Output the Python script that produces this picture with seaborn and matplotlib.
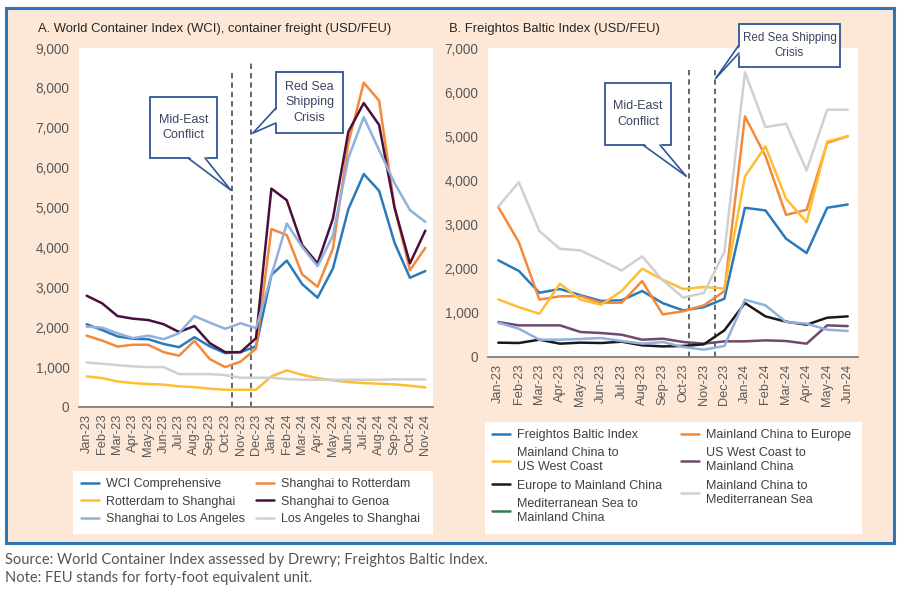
import numpy as np
import pandas as pd
import matplotlib
matplotlib.use('Agg')
import matplotlib.pyplot as plt
import seaborn as sns
from matplotlib.patches import Rectangle, Polygon
from matplotlib.lines import Line2D

# ---------------- data ----------------
months_a = ['Jan-23', 'Feb-23', 'Mar-23', 'Apr-23', 'May-23', 'Jun-23', 'Jul-23', 'Aug-23',
            'Sep-23', 'Oct-23', 'Nov-23', 'Dec-23', 'Jan-24', 'Feb-24', 'Mar-24', 'Apr-24',
            'May-24', 'Jun-24', 'Jul-24', 'Aug-24', 'Sep-24', 'Oct-24', 'Nov-24']
wci_comp = [2075, 1930, 1770, 1710, 1700, 1580, 1500, 1750, 1520, 1350, 1375, 1520,
            3310, 3670, 3080, 2740, 3475, 4960, 5840, 5420, 4118, 3240, 3408]
sh_rott = [1790, 1665, 1515, 1560, 1560, 1375, 1285, 1660, 1200, 1000, 1140, 1460,
           4460, 4310, 3325, 3015, 3975, 6620, 8130, 7680, 5010, 3430, 3990]
rott_sh = [767, 725, 640, 600, 575, 560, 517, 500, 458, 433, 433, 433,
           767, 917, 808, 725, 667, 625, 600, 583, 567, 533, 492]
sh_genoa = [2790, 2600, 2280, 2215, 2180, 2075, 1880, 2030, 1600, 1375, 1375, 1725,
            5475, 5183, 4060, 3600, 4725, 6900, 7620, 7070, 5000, 3600, 4420]
sh_la = [2015, 1990, 1850, 1725, 1790, 1700, 1850, 2280, 2115, 1960, 2100, 1975,
         3300, 4600, 4015, 3530, 4300, 6240, 7267, 6440, 5615, 4937, 4640]
la_sh = [1117, 1083, 1050, 1017, 1000, 1000, 825, 825, 825, 800, 733, 733,
         733, 700, 683, 683, 683, 683, 683, 683, 692, 692, 692]

months_b = ['Jan-23', 'Feb-23', 'Mar-23', 'Apr-23', 'May-23', 'Jun-23', 'Jul-23', 'Aug-23',
            'Sep-23', 'Oct-23', 'Nov-23', 'Dec-23', 'Jan-24', 'Feb-24', 'Mar-24', 'Apr-24',
            'May-24', 'Jun-24']
fbx = [2190, 1950, 1455, 1540, 1400, 1270, 1285, 1495, 1220, 1055, 1130, 1320,
       3380, 3320, 2680, 2355, 3380, 3455]
cn_eu = [3400, 2600, 1300, 1375, 1380, 1230, 1230, 1720, 965, 1035, 1170, 1490,
         5450, 4550, 3220, 3335, 4850, 5000]
cn_uswc = [1305, 1130, 980, 1660, 1300, 1185, 1495, 2000, 1750, 1540, 1585, 1550,
           4090, 4770, 3585, 3055, 4880, 5000]
eu_cn = [325, 317, 392, 302, 325, 317, 347, 264, 240, 250, 287, 604,
         1223, 920, 800, 732, 890, 920]
uswc_cn = [792, 717, 717, 717, 566, 543, 505, 392, 415, 340, 302, 355,
           355, 377, 362, 302, 717, 700]
cn_med = [3410, 3960, 2850, 2450, 2415, 2190, 1960, 2280, 1735, 1345, 1450, 2380,
          6450, 5210, 5283, 4226, 5600, 5600]
med_cn = [777, 641, 392, 392, 408, 430, 362, 302, 340, 226, 166, 249,
          1298, 1170, 792, 755, 619, 589]

yticks_a = [0, 1000, 2000, 3000, 4000, 5000, 6000, 7000, 8000, 9000]
yticks_b = [0, 1000, 2000, 3000, 4000, 5000, 6000, 7000]

# ---------------- style ----------------
sns.set_theme(style='white')
plt.rcParams['font.family'] = ['Liberation Sans Narrow', 'Liberation Sans', 'DejaVu Sans']

BLUE = '#2a7ab9'
ORANGE = '#f5893a'
YELLOW = '#fdbe34'
DPURPLE = '#4a0f3f'
LBLUE = '#8fb1db'
LGRAY = '#d0d0d0'
MPURPLE = '#6f4a6c'
BLACK = '#1a1a1a'
GREEN = '#2e7d4f'
TXT = '#595959'
EDGE = '#2f5597'
PEACH = '#fde8d7'

W, H = 903, 596
fig = plt.figure(figsize=(W / 100, H / 100), dpi=100)
fig.patch.set_facecolor('white')


def fx(x):
    return x / W


def fy(y):
    return 1 - y / H


# outer frame
fig.patches.append(Rectangle((fx(6), fy(543)), (894 - 6) / W, (543 - 8) / H,
                             transform=fig.transFigure, facecolor=PEACH,
                             edgecolor='#2e75b6', lw=2.2, zorder=-2))
# legend backgrounds
fig.patches.append(Rectangle((fx(73), fy(534)), (433 - 73) / W, (534 - 471) / H,
                             transform=fig.transFigure, facecolor='white',
                             edgecolor='none', zorder=-1))
fig.patches.append(Rectangle((fx(485), fy(534)), (862 - 485) / W, (534 - 422) / H,
                             transform=fig.transFigure, facecolor='white',
                             edgecolor='none', zorder=-1))

axA = fig.add_axes([fx(79), fy(407), (433 - 79) / W, (407 - 48) / H])
axB = fig.add_axes([fx(488), fy(357), (858 - 488) / W, (357 - 48) / H])

series_a = [('WCI Comprehensive', wci_comp, BLUE),
            ('Shanghai to Rotterdam', sh_rott, ORANGE),
            ('Rotterdam to Shanghai', rott_sh, YELLOW),
            ('Shanghai to Genoa', sh_genoa, DPURPLE),
            ('Shanghai to Los Angeles', sh_la, LBLUE),
            ('Los Angeles to Shanghai', la_sh, LGRAY)]
xa = np.arange(len(months_a))
handles_a = {}
for name, vals, col in series_a:
    sns.lineplot(x=xa, y=vals, ax=axA, color=col, lw=1.8, legend=False)
    handles_a[name] = Line2D([], [], color=col, lw=1.8)

series_b = [('Freightos Baltic Index', fbx, BLUE, BLUE),
            ('Mainland China to Europe', cn_eu, ORANGE, ORANGE),
            ('Mainland China to\nUS West Coast', cn_uswc, YELLOW, YELLOW),
            ('US West Coast to\nMainland China', uswc_cn, MPURPLE, MPURPLE),
            ('Europe to Mainland China', eu_cn, BLACK, BLACK),
            ('Mainland China to\nMediterranean Sea', cn_med, LGRAY, LGRAY),
            ('Mediterranean Sea to\nMainland China', med_cn, LBLUE, GREEN)]
xb = np.arange(len(months_b))
handles_b = {}
for name, vals, col, lcol in series_b:
    sns.lineplot(x=xb, y=vals, ax=axB, color=col, lw=1.8, legend=False)
    handles_b[name] = Line2D([], [], color=lcol, lw=1.8)

for ax, months, yt, top in [(axA, months_a, yticks_a, 9000), (axB, months_b, yticks_b, 7000)]:
    ax.set_facecolor('white')
    ax.set_xlim(-0.5, len(months) - 0.5)
    ax.set_ylim(0, top)
    ax.set_xticks(np.arange(len(months)))
    ax.set_xticklabels(months, rotation=90)
    ax.set_yticks(yt)
    ax.set_yticklabels([f'{v:,}' for v in yt])
    ax.tick_params(axis='both', length=0, colors=TXT)
    ax.tick_params(axis='y', pad=7, labelsize=9.8)
    ax.tick_params(axis='x', pad=5, labelsize=9.2)
    for s in ['top', 'right', 'left']:
        ax.spines[s].set_visible(False)
    ax.spines['bottom'].set_color('#7f7f7f')
    ax.spines['bottom'].set_linewidth(1.3)
    ax.set_xlabel('')
    ax.set_ylabel('')
    ax.grid(False)

axA.vlines([9.45, 10.7], 0, [8470, 8670], colors='#5a5a5a',
           linestyles=(0, (3, 2.2)), lw=1.3, zorder=1)
axB.vlines([9.3, 10.55], 0, [6500, 6500], colors='#5a5a5a',
           linestyles=(0, (3, 2.2)), lw=1.3, zorder=1)

# titles
fig.text(fx(38), fy(29), 'A. World Container Index (WCI), container freight (USD/FEU)',
         ha='left', va='center', fontsize=9.4, color='#262626')
fig.text(fx(449), fy(29), 'B. Freightos Baltic Index (USD/FEU)',
         ha='left', va='center', fontsize=9.4, color='#262626')


def callout(box, text, base, tip, inward, size=9):
    x0, y0, x1, y1 = box
    fig.patches.append(Rectangle((fx(x0), fy(y1)), (x1 - x0) / W, (y1 - y0) / H,
                                 transform=fig.transFigure, fc='white', ec=EDGE,
                                 lw=1.3, zorder=5))
    (bx1, by1), (bx2, by2) = base
    dx, dy = inward
    poly = Polygon([(fx(bx1 + dx), fy(by1 + dy)), (fx(tip[0]), fy(tip[1])),
                    (fx(bx2 + dx), fy(by2 + dy))], closed=True,
                   transform=fig.transFigure, fc='white', ec='none', zorder=6)
    fig.patches.append(poly)
    for bx, by in base:
        fig.lines.append(Line2D([fx(bx), fx(tip[0])], [fy(by), fy(tip[1])],
                                transform=fig.transFigure, color=EDGE, lw=1.2, zorder=7))
    fig.text(fx((x0 + x1) / 2), fy((y0 + y1) / 2), text, ha='center', va='center',
             fontsize=size, color='#3d4660', linespacing=1.4, zorder=8)


callout((150, 97, 217, 158), 'Mid-East\nConflict', [(188, 158), (205, 158)], (230.7, 190), (0, -2))
callout((276, 72, 343, 133), 'Red Sea\nShipping\nCrisis', [(276, 108), (276, 123)], (253, 133), (2, 0))
callout((605, 83, 671, 145), 'Mid-East\nConflict', [(643, 145), (660, 145)], (686, 176), (0, -2))
callout((739, 24, 840, 67), 'Red Sea Shipping\nCrisis', [(739, 45), (739, 53)], (716, 78), (2, 0),
        size=8.4)

# legends
orderA = ['WCI Comprehensive', 'Rotterdam to Shanghai', 'Shanghai to Los Angeles',
          'Shanghai to Rotterdam', 'Shanghai to Genoa', 'Los Angeles to Shanghai']
legA = fig.legend([handles_a[k] for k in orderA], orderA, ncol=2, frameon=False,
                  loc='upper left', bbox_to_anchor=(fx(81), fy(478)),
                  fontsize=9, handlelength=1.45, handletextpad=0.55,
                  columnspacing=0.9, labelspacing=0.45, borderaxespad=0, borderpad=0)
orderB = ['Freightos Baltic Index', 'Mainland China to\nUS West Coast',
          'Europe to Mainland China', 'Mediterranean Sea to\nMainland China',
          'Mainland China to Europe', 'US West Coast to\nMainland China',
          'Mainland China to\nMediterranean Sea']
legB = fig.legend([handles_b[k] for k in orderB], orderB, ncol=2, frameon=False,
                  loc='upper left', bbox_to_anchor=(fx(492), fy(429)),
                  fontsize=9, handlelength=1.45, handletextpad=0.55,
                  columnspacing=1.5, labelspacing=0.5, borderaxespad=0, borderpad=0)
for leg in (legA, legB):
    for t in leg.get_texts():
        t.set_color('#404040')
        t.set_linespacing(1.25)

# footnotes
fig.text(fx(5), fy(560), 'Source: World Container Index assessed by Drewry; Freightos Baltic Index.',
         ha='left', va='center', fontsize=10.5, color='#555555', family=['Lato', 'DejaVu Sans'])
fig.text(fx(5), fy(578), 'Note: FEU stands for forty-foot equivalent unit.',
         ha='left', va='center', fontsize=10.5, color='#555555', family=['Lato', 'DejaVu Sans'])

fig.savefig('out.png', dpi=100, facecolor='white')
